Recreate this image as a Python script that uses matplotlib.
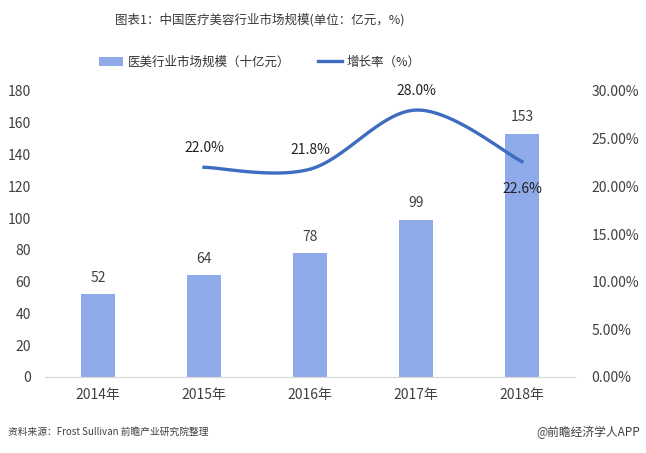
import numpy as np
import matplotlib
matplotlib.use('Agg')
from matplotlib import pyplot as plt
from matplotlib.ticker import FuncFormatter

plt.rcParams['font.family'] = ['Noto Sans CJK SC', 'DejaVu Sans']

years = ['2014年', '2015年', '2016年', '2017年', '2018年']
market = [52, 64, 78, 99, 153]
growth_years = [1, 2, 3, 4]
growth = [22.0, 21.8, 28.0, 22.6]

bar_color = '#8EAAE8'
line_color = '#3D6CC0'
txt = '#404040'

def smooth(xs, ys, n=40):
    # catmull-rom, like the office smoothed line
    p = np.column_stack([xs, ys]).astype(float)
    p = np.vstack([p[0], p, p[-1]])
    out = []
    for i in range(1, len(p) - 2):
        p0, p1, p2, p3 = p[i-1], p[i], p[i+1], p[i+2]
        t = np.linspace(0, 1, n)[:, None]
        seg = 0.5 * ((2*p1) + (-p0 + p2)*t + (2*p0 - 5*p1 + 4*p2 - p3)*t**2
                     + (-p0 + 3*p1 - 3*p2 + p3)*t**3)
        out.append(seg)
    out = np.vstack(out)
    return out[:, 0], out[:, 1]

fig = plt.figure(figsize=(6.46, 4.53), dpi=100)
ax = fig.add_axes([45/646, 1-377/453, 530/646, 286/453])
ax2 = ax.twinx()

x = np.arange(len(years))
bars = ax.bar(x, market, width=0.32, color=bar_color, label='医美行业市场规模（十亿元）', zorder=2)
for xi, v in zip(x, market):
    ax.text(xi, v + 6, str(v), ha='center', va='bottom', fontsize=10, color=txt)

sx, sy = smooth(growth_years, growth)
ln, = ax2.plot(sx, sy, color=line_color, lw=2.4, label='增长率（%）', zorder=3)
offs = [14, 14, 14, -20]
for xi, v, o in zip(growth_years, growth, offs):
    ax2.annotate('%.1f%%' % v, (xi, v), xytext=(0, o), textcoords='offset points',
                 ha='center', va='center', fontsize=10, color='#222222')

ax.set_xlim(-0.5, 4.5)
ax.set_ylim(0, 180)
ax.set_yticks(range(0, 181, 20))
ax2.set_ylim(0, 30)
ax2.set_yticks(range(0, 31, 5))
ax2.yaxis.set_major_formatter(FuncFormatter(lambda v, p: '%.2f%%' % v))
ax.set_xticks(x)
ax.set_xticklabels(years)

for a in (ax, ax2):
    for s in ('top', 'left', 'right'):
        a.spines[s].set_visible(False)
    a.spines['bottom'].set_color('#D9D9D9')
    a.tick_params(length=0, labelsize=10, colors=txt)
ax.tick_params(axis='y', pad=10)
ax.tick_params(axis='x', pad=8)
ax2.tick_params(axis='y', pad=12)

fig.text(260/646, 1-20/453, '图表1：中国医疗美容行业市场规模(单位：亿元，%)', ha='center', va='center',
         fontsize=9, color='#3a3a3a')
fig.legend(handles=[bars, ln], loc='center', bbox_to_anchor=(260/646, 1-62/453), ncol=2,
           frameon=False, fontsize=9, handlelength=1.9, handletextpad=0.4,
           columnspacing=2.2, labelcolor='#333333')
fig.text(8/646, 1-432/453, '资料来源：Frost Sullivan 前瞻产业研究院整理', ha='left', va='center',
         fontsize=7, color='#404040', style='italic')
fig.text(640/646, 1-432/453, '@前瞻经济学人APP', ha='right', va='center',
         fontsize=8.5, color='#404040')

fig.savefig('out.png', dpi=100)
